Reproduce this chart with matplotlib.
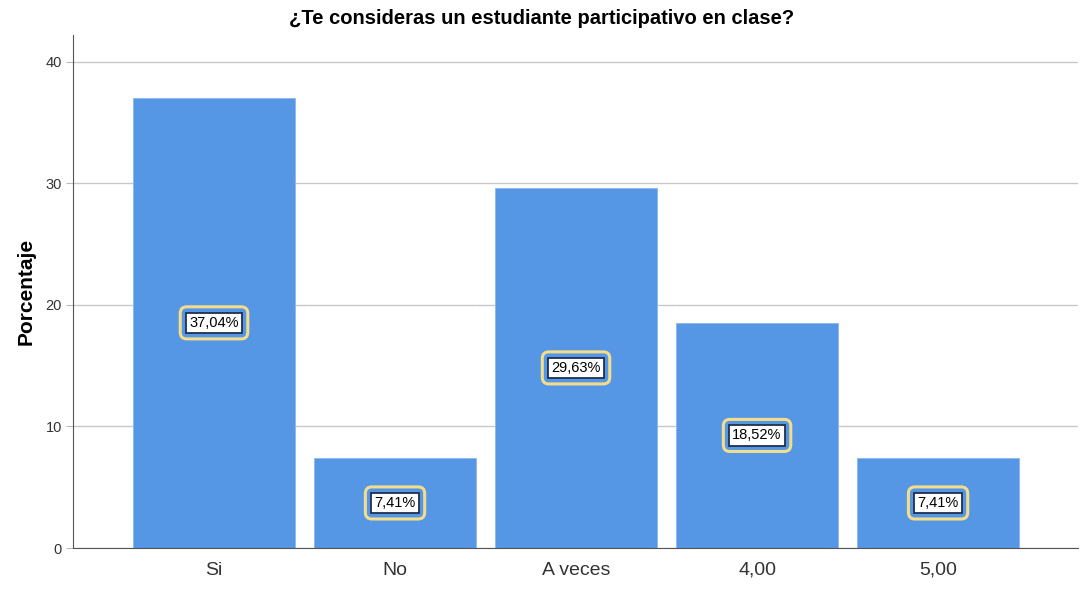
import matplotlib.pyplot as plt

categorias = ['Si', 'No', 'A veces', '4,00', '5,00']
porcentajes = [37.04, 7.41, 29.63, 18.52, 7.41]
etiquetas = ['37,04%', '7,41%', '29,63%', '18,52%', '7,41%']

plt.rcParams['font.family'] = ['Liberation Sans', 'DejaVu Sans']

fig = plt.figure(figsize=(10.83, 5.9), dpi=100)
ax = fig.add_axes([73 / 1083, 42 / 590, 1005 / 1083, 513 / 590])

x = list(range(len(categorias)))
ax.bar(x, porcentajes, width=0.895, color='#5596e5', edgecolor='#8cb8ee', linewidth=0.6, zorder=2)

# etiquetas en el centro de cada barra
for xi, val, txt in zip(x, porcentajes, etiquetas):
    ax.text(xi, val / 2, txt, ha='center', va='center', fontsize=10.5, color='none', zorder=3,
            bbox=dict(boxstyle='round,pad=0.62,rounding_size=0.45', facecolor='#5596e5',
                      edgecolor='#f3dd8a', linewidth=2.2))
    ax.text(xi, val / 2, txt, ha='center', va='center', fontsize=10.5, color='black', zorder=4,
            bbox=dict(boxstyle='square,pad=0.22', facecolor='white',
                      edgecolor='#1f2f4f', linewidth=1.3))

ax.set_xlim(-0.779, 4.773)
ax.set_ylim(0, 42.2)
ax.set_yticks([0, 10, 20, 30, 40])
ax.set_xticks(x)
ax.set_xticklabels(categorias, fontsize=14, color='#333333')
ax.tick_params(axis='x', length=0, pad=10)
ax.tick_params(axis='y', length=5, color='#bbbbbb', labelsize=10.5, labelcolor='#333333', pad=3)
ax.yaxis.grid(True, color='#c8c8c8', linewidth=1, zorder=0)
ax.set_axisbelow(True)

for s in ['top', 'right']:
    ax.spines[s].set_visible(False)
ax.spines['left'].set_color('#555555')
ax.spines['bottom'].set_color('#555555')

ax.set_ylabel('Porcentaje', fontsize=15, fontweight='bold', labelpad=7)
fig.text(0.5 * (283 + 800) / 1083, 1 - 18 / 590, '¿Te consideras un estudiante participativo en clase?',
         ha='center', va='center', fontsize=14.5, fontweight='bold')

fig.savefig('out.png', dpi=100)
